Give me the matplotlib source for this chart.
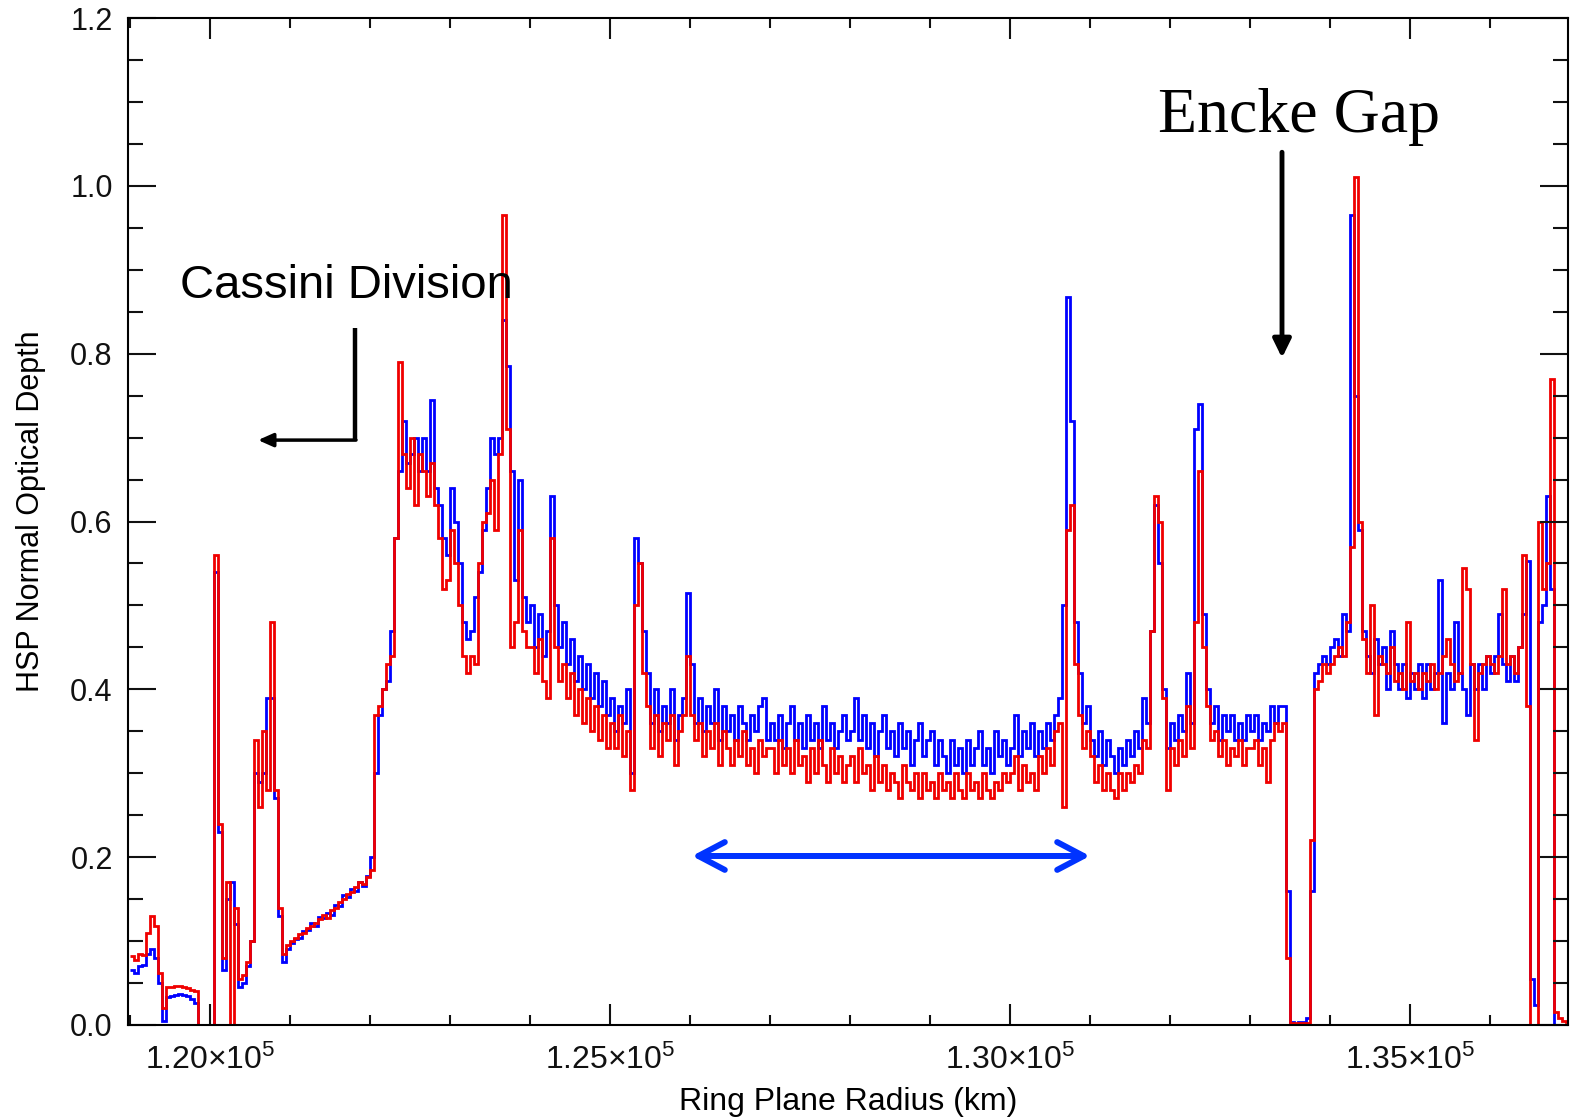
import numpy as np
import matplotlib.pyplot as plt

plt.rcParams['font.family'] = ['Liberation Sans', 'DejaVu Sans']
plt.rcParams['mathtext.fontset'] = 'custom'
plt.rcParams['mathtext.rm'] = 'Liberation Sans'
plt.rcParams['mathtext.default'] = 'regular'

# radial bins: 50 km wide, starting at 119000 km
r_start = 119000
r_step = 50

# optical depth, one row per 1000 km
blue_tau = [
    0.066, 0.062, 0.070, 0.072, 0.085, 0.090, 0.080, 0.050, 0.005, 0.033, 0.035, 0.036, 0.037, 0.036, 0.034, 0.031, 0.026, 0.0, 0.0, 0.0,
    0.0, 0.54, 0.23, 0.065, 0.15, 0.17, 0.12, 0.045, 0.05, 0.07, 0.10, 0.30, 0.29, 0.30, 0.39, 0.39, 0.27, 0.13, 0.075, 0.090,
    0.098, 0.103, 0.104, 0.112, 0.113, 0.121, 0.118, 0.129, 0.127, 0.134, 0.131, 0.143, 0.142, 0.155, 0.152, 0.162, 0.160, 0.171, 0.166, 0.178,
    0.200, 0.30, 0.37, 0.40, 0.41, 0.47, 0.58, 0.66, 0.72, 0.67, 0.68, 0.70, 0.66, 0.70, 0.66, 0.745, 0.64, 0.62, 0.58, 0.56,
    0.64, 0.60, 0.55, 0.48, 0.46, 0.47, 0.51, 0.54, 0.59, 0.64, 0.70, 0.68, 0.70, 0.84, 0.785, 0.66, 0.53, 0.65, 0.51, 0.48,
    0.50, 0.45, 0.49, 0.44, 0.47, 0.63, 0.50, 0.45, 0.48, 0.43, 0.46, 0.41, 0.44, 0.40, 0.43, 0.39, 0.42, 0.38, 0.41, 0.37,
    0.39, 0.35, 0.38, 0.36, 0.40, 0.30, 0.58, 0.55, 0.47, 0.42, 0.36, 0.40, 0.35, 0.38, 0.36, 0.40, 0.34, 0.37, 0.39, 0.515,
    0.43, 0.36, 0.39, 0.35, 0.38, 0.36, 0.40, 0.34, 0.38, 0.35, 0.37, 0.34, 0.38, 0.36, 0.34, 0.37, 0.35, 0.38, 0.39, 0.34,
    0.36, 0.34, 0.37, 0.33, 0.36, 0.38, 0.34, 0.36, 0.33, 0.37, 0.34, 0.36, 0.33, 0.38, 0.34, 0.36, 0.33, 0.35, 0.37, 0.34,
    0.35, 0.39, 0.34, 0.37, 0.33, 0.36, 0.32, 0.35, 0.37, 0.33, 0.35, 0.32, 0.36, 0.33, 0.35, 0.31, 0.34, 0.36, 0.32, 0.34,
    0.35, 0.31, 0.34, 0.32, 0.30, 0.34, 0.31, 0.33, 0.30, 0.34, 0.31, 0.33, 0.35, 0.31, 0.33, 0.30, 0.35, 0.32, 0.34, 0.31,
    0.33, 0.37, 0.32, 0.35, 0.33, 0.36, 0.32, 0.35, 0.33, 0.36, 0.34, 0.37, 0.39, 0.50, 0.868, 0.72, 0.48, 0.42, 0.36, 0.38,
    0.34, 0.32, 0.35, 0.31, 0.34, 0.32, 0.30, 0.33, 0.31, 0.34, 0.32, 0.35, 0.33, 0.39, 0.36, 0.47, 0.62, 0.55, 0.40, 0.33,
    0.36, 0.34, 0.37, 0.35, 0.42, 0.36, 0.71, 0.74, 0.49, 0.40, 0.36, 0.38, 0.34, 0.37, 0.35, 0.37, 0.34, 0.36, 0.34, 0.37,
    0.35, 0.37, 0.34, 0.36, 0.35, 0.38, 0.36, 0.38, 0.38, 0.16, 0.003, 0.0, 0.003, 0.004, 0.008, 0.16, 0.42, 0.43, 0.44, 0.43,
    0.45, 0.46, 0.44, 0.49, 0.47, 0.965, 0.75, 0.59, 0.47, 0.44, 0.42, 0.46, 0.43, 0.45, 0.40, 0.47, 0.43, 0.40, 0.43, 0.39,
    0.42, 0.40, 0.43, 0.39, 0.43, 0.40, 0.42, 0.53, 0.36, 0.42, 0.40, 0.48, 0.42, 0.40, 0.37, 0.43, 0.40, 0.43, 0.40, 0.44,
    0.42, 0.44, 0.49, 0.43, 0.41, 0.44, 0.41, 0.45, 0.49, 0.553, 0.055, 0.024, 0.48, 0.50, 0.63, 0.52, 0.0, 0.0, 0.0, 0.0,
]

red_tau = [
    0.082, 0.078, 0.085, 0.083, 0.110, 0.130, 0.118, 0.062, 0.020, 0.045, 0.045, 0.046, 0.046, 0.045, 0.044, 0.042, 0.040, 0.0, 0.0, 0.0,
    0.0, 0.56, 0.24, 0.08, 0.17, 0.0, 0.14, 0.055, 0.06, 0.075, 0.10, 0.34, 0.26, 0.35, 0.28, 0.48, 0.28, 0.14, 0.085, 0.095,
    0.100, 0.104, 0.108, 0.110, 0.116, 0.118, 0.122, 0.126, 0.131, 0.128, 0.137, 0.140, 0.146, 0.150, 0.156, 0.158, 0.164, 0.170, 0.168, 0.176,
    0.185, 0.37, 0.38, 0.40, 0.43, 0.44, 0.58, 0.79, 0.68, 0.64, 0.70, 0.62, 0.68, 0.66, 0.63, 0.67, 0.62, 0.58, 0.52, 0.53,
    0.59, 0.55, 0.50, 0.44, 0.42, 0.44, 0.43, 0.55, 0.60, 0.61, 0.65, 0.59, 0.68, 0.965, 0.71, 0.45, 0.48, 0.59, 0.47, 0.45,
    0.45, 0.42, 0.46, 0.41, 0.39, 0.58, 0.45, 0.41, 0.43, 0.39, 0.42, 0.37, 0.40, 0.36, 0.39, 0.35, 0.38, 0.34, 0.37, 0.33,
    0.36, 0.33, 0.37, 0.32, 0.35, 0.28, 0.50, 0.55, 0.42, 0.38, 0.33, 0.37, 0.32, 0.36, 0.34, 0.37, 0.31, 0.35, 0.37, 0.44,
    0.37, 0.34, 0.36, 0.32, 0.35, 0.33, 0.36, 0.31, 0.35, 0.33, 0.31, 0.34, 0.32, 0.35, 0.31, 0.33, 0.30, 0.34, 0.32, 0.33,
    0.33, 0.30, 0.34, 0.31, 0.33, 0.30, 0.34, 0.31, 0.32, 0.29, 0.33, 0.30, 0.34, 0.31, 0.29, 0.33, 0.30, 0.32, 0.29, 0.31,
    0.32, 0.29, 0.33, 0.30, 0.31, 0.28, 0.32, 0.29, 0.31, 0.28, 0.30, 0.29, 0.27, 0.31, 0.29, 0.28, 0.30, 0.27, 0.30, 0.28,
    0.29, 0.27, 0.30, 0.28, 0.29, 0.27, 0.30, 0.28, 0.27, 0.30, 0.28, 0.29, 0.27, 0.30, 0.28, 0.27, 0.29, 0.28, 0.30, 0.29,
    0.30, 0.32, 0.28, 0.31, 0.29, 0.30, 0.28, 0.32, 0.30, 0.33, 0.31, 0.35, 0.36, 0.26, 0.59, 0.62, 0.43, 0.37, 0.33, 0.35,
    0.32, 0.29, 0.31, 0.28, 0.30, 0.28, 0.27, 0.30, 0.28, 0.30, 0.29, 0.31, 0.30, 0.34, 0.33, 0.47, 0.63, 0.60, 0.39, 0.28,
    0.33, 0.31, 0.34, 0.32, 0.38, 0.33, 0.48, 0.66, 0.45, 0.38, 0.34, 0.35, 0.32, 0.34, 0.31, 0.33, 0.32, 0.34, 0.31, 0.33,
    0.33, 0.34, 0.31, 0.33, 0.29, 0.34, 0.36, 0.35, 0.36, 0.08, 0.002, 0.002, 0.002, 0.002, 0.002, 0.22, 0.40, 0.41, 0.43, 0.42,
    0.43, 0.44, 0.45, 0.44, 0.48, 0.57, 1.01, 0.60, 0.46, 0.42, 0.50, 0.37, 0.44, 0.43, 0.42, 0.45, 0.41, 0.42, 0.40, 0.48,
    0.41, 0.42, 0.40, 0.42, 0.41, 0.43, 0.40, 0.42, 0.44, 0.46, 0.43, 0.41, 0.42, 0.545, 0.52, 0.43, 0.34, 0.42, 0.43, 0.44,
    0.43, 0.42, 0.44, 0.52, 0.43, 0.44, 0.42, 0.45, 0.56, 0.38, 0.0, 0.0, 0.60, 0.52, 0.55, 0.77, 0.015, 0.008, 0.005, 0.003,
]

xtick_vals = [120000, 125000, 130000, 135000]
xtick_labels = [r'1.20$\times$10$^{5}$', r'1.25$\times$10$^{5}$', r'1.30$\times$10$^{5}$', r'1.35$\times$10$^{5}$']
ytick_vals = [0.0, 0.2, 0.4, 0.6, 0.8, 1.0, 1.2]
ytick_labels = ['0.0', '0.2', '0.4', '0.6', '0.8', '1.0', '1.2']

edges = r_start + r_step * np.arange(len(blue_tau) + 1)

fig = plt.figure(figsize=(15.7, 11.2), dpi=100)
ax = fig.add_axes([128 / 1570, 95 / 1120, 1440 / 1570, 1007 / 1120])

ax.stairs(blue_tau, edges, baseline=None, color='#0000ff', lw=2.0)
ax.stairs(red_tau, edges, baseline=None, color='#f00000', lw=2.0)

ax.set_xlim(118975, 136975)
ax.set_ylim(0, 1.2)

ax.set_xticks(xtick_vals)
ax.set_xticklabels(xtick_labels)
ax.set_xticks(np.arange(119000, 137000, 1000), minor=True)
ax.set_yticks(ytick_vals)
ax.set_yticklabels(ytick_labels)
ax.set_yticks(np.arange(0, 1.2, 0.05), minor=True)

ax.tick_params(which='both', direction='in', top=True, right=True, width=1.5, colors='#111111')
ax.tick_params(axis='x', which='major', length=15, pad=14, labelsize=23)
ax.tick_params(axis='x', which='minor', length=7)
ax.tick_params(axis='y', which='major', length=20, pad=11, labelsize=22)
ax.tick_params(axis='y', which='minor', length=11)
for s in ax.spines.values():
    s.set_linewidth(1.5)

ax.set_xlabel('Ring Plane Radius (km)', fontsize=23, labelpad=8)
ax.set_ylabel('HSP Normal Optical Depth', fontsize=22)
ax.yaxis.set_label_coords(-0.057, 0.51)

# annotations
ax.text(119625, 0.866, 'Cassini Division', fontsize=34, va='baseline', ha='left')
ax.plot([121812, 121812], [0.831, 0.697], color='k', lw=3.2, solid_capstyle='butt')
ax.annotate('', xy=(120600, 0.697), xytext=(121825, 0.697),
            arrowprops=dict(arrowstyle='-|>,head_length=0.45,head_width=0.2', color='k', lw=2.5,
                            mutation_scale=20, shrinkA=0, shrinkB=0))

ax.text(131850, 1.064, 'Encke Gap', fontsize=46, va='baseline', ha='left', family='Liberation Serif')
ax.annotate('', xy=(133400, 0.795), xytext=(133400, 1.040),
            arrowprops=dict(arrowstyle='-|>,head_length=0.55,head_width=0.27', color='k', lw=3.5,
                            mutation_scale=20, shrinkA=0, shrinkB=0))

ax.annotate('', xy=(126025, 0.2014), xytext=(131000, 0.2014),
            arrowprops=dict(arrowstyle='<->,head_length=0.95,head_width=0.5', color='#0033ff', lw=4.3,
                            mutation_scale=20, shrinkA=0, shrinkB=0, capstyle='round'))

fig.savefig('out.png', dpi=100)
